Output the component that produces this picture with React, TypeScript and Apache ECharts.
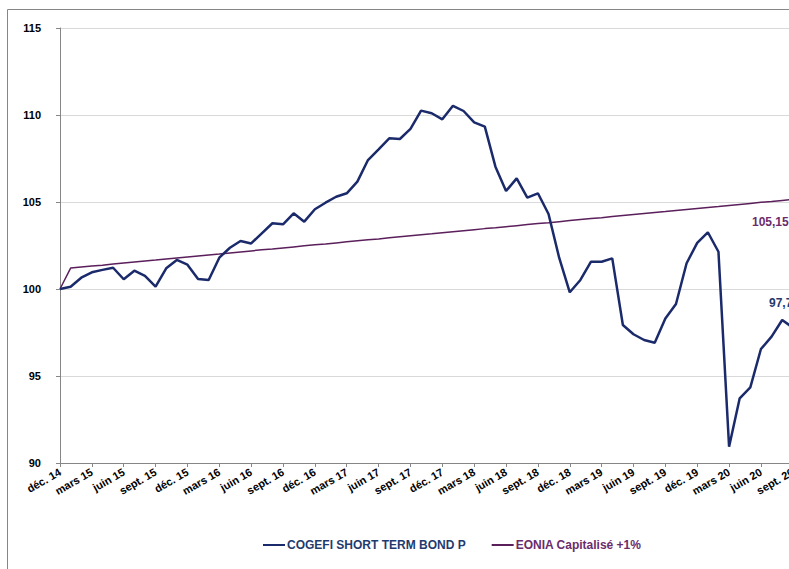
import React, { useEffect, useRef } from "react";
import * as echarts from "echarts";

const monthNames = ["janv.", "févr.", "mars", "avr.", "mai", "juin", "juil.", "août", "sept.", "oct.", "nov.", "déc."];

// Monthly categories from déc. 14 to sept. 20
const categories: string[] = [];
for (let y = 2014, m = 11; y < 2020 || (y === 2020 && m <= 8); ) {
  categories.push(monthNames[m] + " " + String(y % 100));
  m++;
  if (m > 11) { m = 0; y++; }
}

const cogefi = [
  100.00, 100.13, 100.65, 100.96, 101.10, 101.22, 100.56, 101.05, 100.75, 100.13,
  101.19, 101.67, 101.40, 100.57, 100.52, 101.80, 102.37, 102.76, 102.62, 103.20,
  103.78, 103.72, 104.35, 103.87, 104.58, 104.96, 105.30, 105.50, 106.17, 107.41,
  108.03, 108.66, 108.62, 109.20, 110.25, 110.10, 109.75, 110.53, 110.23, 109.58,
  109.33, 107.03, 105.63, 106.36, 105.25, 105.50, 104.31, 101.80, 99.81, 100.52,
  101.57, 101.57, 101.76, 97.93, 97.40, 97.07, 96.91, 98.31, 99.14, 101.48,
  102.65, 103.26, 102.14, 90.94, 93.72, 94.35, 96.55, 97.26, 98.22, 97.78,
];

const eonia = [
  100.00, 101.20, 101.26, 101.32, 101.37, 101.43, 101.49, 101.55, 101.61, 101.66,
  101.72, 101.78, 101.84, 101.90, 101.96, 102.01, 102.07, 102.13, 102.19, 102.25,
  102.30, 102.36, 102.42, 102.48, 102.54, 102.59, 102.65, 102.71, 102.77, 102.83,
  102.88, 102.94, 103.00, 103.06, 103.12, 103.17, 103.23, 103.29, 103.35, 103.41,
  103.47, 103.52, 103.58, 103.64, 103.70, 103.76, 103.81, 103.87, 103.93, 103.99,
  104.05, 104.10, 104.16, 104.22, 104.28, 104.34, 104.40, 104.45, 104.51, 104.57,
  104.63, 104.69, 104.74, 104.80, 104.86, 104.92, 104.98, 105.03, 105.09, 105.15,
];

const seriesNames = ["COGEFI SHORT TERM BOND P", "EONIA Capitalisé +1%"];
const lastLabels = ["97,78", "105,15"];

const FONT = "'Liberation Sans', Arial, sans-serif";
const NAVY = "#1b2a6b";
const PURPLE = "#5b1f5b";

export default function App() {
  const ref = useRef<HTMLDivElement>(null);
  useEffect(() => {
    if (!ref.current) return;
    const chart = echarts.init(ref.current, undefined, { renderer: "svg" });
    chart.setOption({
      animation: false,
      backgroundColor: "#ffffff",
      textStyle: { fontFamily: FONT },
      grid: { left: 60, top: 28, width: 732.8, height: 435 },
      legend: {
        left: 258,
        top: 534,
        itemGap: 26,
        itemWidth: 22,
        itemHeight: 2,
        icon: "rect",
        data: [
          { name: seriesNames[0], textStyle: { color: "#1f3b6e" } },
          { name: seriesNames[1], textStyle: { color: "#6b2c6b" } },
        ],
        textStyle: { fontFamily: FONT, fontSize: 12, fontWeight: "bold", padding: [0, 0, 0, -3] },
      },
      xAxis: {
        type: "category",
        boundaryGap: false,
        data: categories,
        axisLine: { lineStyle: { color: "#868686", width: 1 } },
        axisTick: { show: true, interval: 2, length: 4, lineStyle: { color: "#868686" } },
        axisLabel: {
          interval: 2,
          rotate: 30,
          margin: 8,
          color: "#000",
          fontFamily: FONT,
          fontSize: 11,
          fontWeight: "bold",
        },
        splitLine: { show: false },
      },
      yAxis: {
        type: "value",
        min: 90,
        max: 115,
        interval: 5,
        axisLine: { show: true, lineStyle: { color: "#868686", width: 1 } },
        axisTick: { show: true, length: 4, lineStyle: { color: "#868686" } },
        axisLabel: { margin: 19, color: "#000", fontFamily: FONT, fontSize: 11, fontWeight: "bold" },
        splitLine: { show: true, lineStyle: { color: "#d9d9d9", width: 1 } },
      },
      series: [
        {
          name: seriesNames[0],
          type: "line",
          data: cogefi,
          symbol: "none",
          color: NAVY,
          lineStyle: { color: NAVY, width: 2.5 },
          z: 3,
        },
        {
          name: seriesNames[1],
          type: "line",
          data: eonia,
          symbol: "none",
          color: PURPLE,
          lineStyle: { color: PURPLE, width: 1.5 },
          z: 2,
        },
      ],
      graphic: [
        {
          type: "rect",
          shape: { x: 7.5, y: 9.5, width: 1200, height: 1200 },
          style: { fill: "none", stroke: "#868686", lineWidth: 1 },
          silent: true,
        },
        {
          type: "text",
          x: 752,
          y: 222,
          style: {
            text: lastLabels[1],
            fill: "#6b2c6b",
            font: "bold 12px " + FONT,
            verticalAlign: "middle",
          },
        },
        {
          type: "text",
          x: 769,
          y: 303,
          style: {
            text: lastLabels[0],
            fill: "#1f3b6e",
            font: "bold 12px " + FONT,
            verticalAlign: "middle",
          },
        },
      ],
    });
    return () => chart.dispose();
  }, []);
  return (
    <div style={{ position: "fixed", left: 0, top: 0, width: 789, height: 569, overflow: "hidden", background: "#fff" }}>
      <div ref={ref} style={{ width: 900, height: 620 }} />
    </div>
  );
}
